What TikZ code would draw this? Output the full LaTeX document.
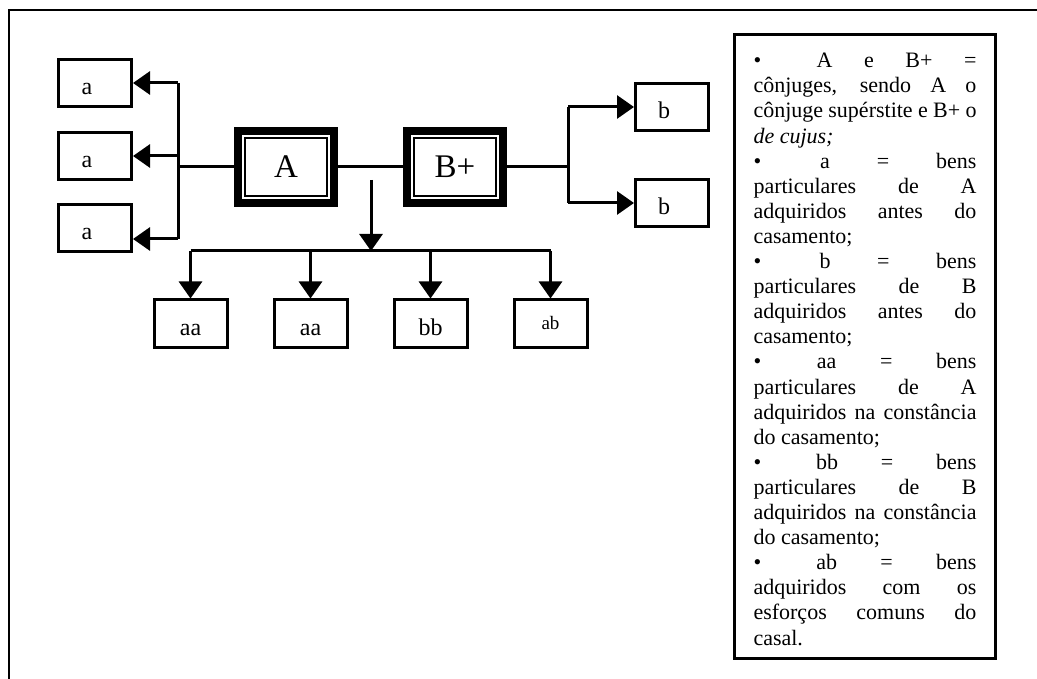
\documentclass[tikz,border=0pt]{standalone}
\usepackage{fontspec}
\setmainfont{Liberation Serif}
\usepackage{tikz}
\usetikzlibrary{arrows.meta, positioning}

\begin{document}
\begin{tikzpicture}[
    x=1pt, y=-1pt,
    leaf/.style={rectangle, draw=black, line width=3pt, minimum width=73pt, minimum height=47pt, inner sep=0pt, text height=24pt, text depth=0pt, font=\fontsize{24}{28}\selectfont},
    sideleaf/.style={leaf, execute at begin node={\hspace*{-16pt}}},
    spouse/.style={rectangle, draw=black, line width=8pt, minimum width=96pt, minimum height=72pt, inner sep=0pt, font=\fontsize{33}{38}\selectfont},
    legend/.style={rectangle, draw=black, line width=3pt, minimum width=261pt, minimum height=624pt, inner sep=0pt},
    legendtext/.style={text width=223pt, align=justify, inner sep=0pt, font=\fontsize{22}{25.1}\selectfont},
    link/.style={draw=black, line width=3pt},
    arrow/.style={-{Triangle[length=17pt, width=23pt]}, line width=3pt, draw=black},
    frame/.style={draw=black, line width=2pt}
  ]
  \useasboundingbox (0,0) rectangle (1037,679);
  \draw[frame] (9,679) -- (9,10) -- (1037,10);

  \node[spouse] (A) at (286,167) {A};
  \node[spouse, right=65pt of A] (B) {B+};
  \draw[line width=1.5pt] ([shift={(11pt,-11pt)}]A.north west) rectangle ([shift={(-11pt,11pt)}]A.south east);
  \draw[line width=1.5pt] ([shift={(11pt,-11pt)}]B.north west) rectangle ([shift={(-11pt,11pt)}]B.south east);

  \node[sideleaf] (a1) at (95,83) {a};
  \node[sideleaf, below=23pt of a1] (a2) {a};
  \node[sideleaf, below=22pt of a2] (a3) {a};
  \node[sideleaf] (b1) at (672,107) {b};
  \node[sideleaf, below=46pt of b1] (b2) {b};
  \node[leaf] (aa1) at (190.5,323.5) {aa};
  \node[leaf, right=44pt of aa1] (aa2) {aa};
  \node[leaf, right=44pt of aa2] (bb) {bb};
  \node[leaf, right=44pt of bb, text height=13pt, font=\fontsize{19}{22}\selectfont] (ab) {ab};

  \coordinate (lt) at (178,83);
  \coordinate (lb) at (178,239);
  \coordinate (rt) at (568,167);
  \coordinate (mid) at (371,180);
  \coordinate (bus) at (371,251);

  \draw[link] (A) -- (A -| lt);
  \draw[link] (lt) -- (lb);
  \draw[arrow] (lt) -- (a1.east);
  \draw[arrow] (a2.east -| lt) -- (a2.east);
  \draw[arrow] (lb) -- (lb -| a3.east);

  \draw[link] (A) -- (B);
  \draw[link] (B) -- (rt);
  \draw[link] (b1.west -| rt) -- (b2.west -| rt);
  \draw[arrow] (b1.west -| rt) -- (b1.west);
  \draw[arrow] (b2.west -| rt) -- (b2.west);

  \draw[arrow] (mid) -- (bus);
  \draw[link] (aa1.north |- bus) -- (ab.north |- bus);
  \foreach \leafname in {aa1, aa2, bb, ab}
    \draw[arrow] (\leafname.north |- bus) -- (\leafname.north);

  \node[legend, anchor=north west] (key) at (733,33) {};
  \node[legendtext, anchor=north] (keytext) at ([yshift=-20pt]key.north) {%
    \textbullet\hspace{24pt} A e B+ =\linebreak
    cônjuges, sendo A o\linebreak
    cônjuge supérstite e B+ o\linebreak
    \textit{de cujus;}\par
    \textbullet\hspace{12pt} a = bens\linebreak
    particulares de A\linebreak
    adquiridos antes do\linebreak
    casamento;\par
    \textbullet\hspace{12pt} b = bens\linebreak
    particulares de B\linebreak
    adquiridos antes do\linebreak
    casamento;\par
    \textbullet\hspace{12pt} aa = bens\linebreak
    particulares de A\linebreak
    adquiridos na constância\linebreak
    do casamento;\par
    \textbullet\hspace{12pt} bb = bens\linebreak
    particulares de B\linebreak
    adquiridos na constância\linebreak
    do casamento;\par
    \textbullet\hspace{12pt} ab = bens\linebreak
    adquiridos com os\linebreak
    esforços comuns do\linebreak
    casal.};
\end{tikzpicture}
\end{document}
